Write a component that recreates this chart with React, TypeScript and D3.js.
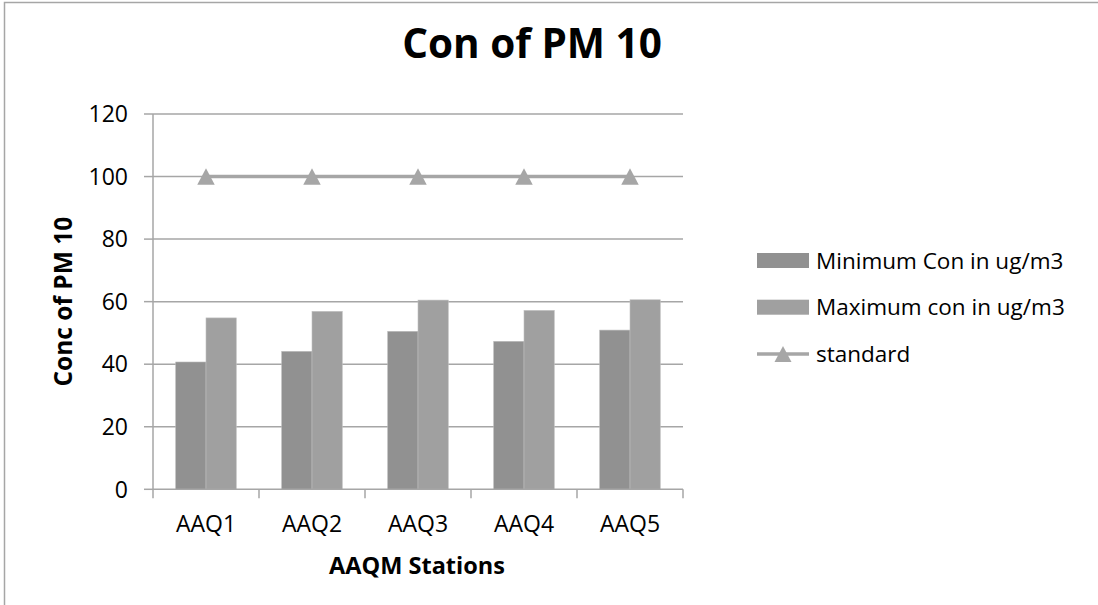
import React from "react";
import * as d3 from "d3";

const categories = ["AAQ1", "AAQ2", "AAQ3", "AAQ4", "AAQ5"];
const minimumCon = [40.7, 44.1, 50.5, 47.3, 50.9];
const maximumCon = [54.8, 56.9, 60.5, 57.2, 60.6];
const standard = [100, 100, 100, 100, 100];
const yTicks = [0, 20, 40, 60, 80, 100, 120];
const seriesNames = ["Minimum Con in ug/m3", "Maximum con in ug/m3", "standard"];

const W = 1098;
const H = 605;
const FONT = "'Open Sans', 'Noto Sans', sans-serif";

export default function App() {
  const left = 153;
  const right = 683;
  const top = 114;
  const bottom = 489.3;

  const x = d3.scaleBand<string>().domain(categories).range([left, right]).padding(0);
  const y = d3.scaleLinear().domain([0, 120]).range([bottom, top]);
  const bw = x.bandwidth();
  const barW = bw / 3.5;
  const off = (bw - 2 * barW) / 2;

  const linePts: [number, number][] = categories.map((c, i) => [x(c)! + bw / 2, y(standard[i])]);
  const line = d3.line()(linePts) || "";

  const tri = (cx: number, cy: number, s: number) =>
    `M${cx},${cy - s * 0.5} L${cx + s * 0.53},${cy + s * 0.5} L${cx - s * 0.53},${cy + s * 0.5} Z`;

  const gridColor = "#a6a6a6";
  const minColor = "#919191";
  const maxColor = "#a0a0a0";
  const stdColor = "#a6a6a6";

  const legX = 757;
  const legRows = [260.5, 307.2, 354];

  return (
    <div style={{ position: "fixed", left: 0, top: 0 }}>
      <svg width={W} height={H} style={{ display: "block", background: "#fff" }}>
        <rect x={4.5} y={2.5} width={1100} height={620} fill="#fff" stroke="#a6a6a6" strokeWidth={1.5} />
        <text x={532} y={58} textAnchor="middle" fontFamily={FONT} fontWeight="bold" fontSize={40.5} fill="#000">
          Con of PM 10
        </text>

        {yTicks.map((t) => (
          <g key={t}>
            {t > 0 && <line x1={left} x2={right} y1={y(t)} y2={y(t)} stroke={gridColor} strokeWidth={1.5} />}
            <line x1={left - 9} x2={left} y1={y(t)} y2={y(t)} stroke={gridColor} strokeWidth={1.5} />
            <text x={128} y={y(t)} dy="0.36em" textAnchor="end" fontFamily={FONT} fontSize={23} fill="#000">
              {t}
            </text>
          </g>
        ))}

        {categories.map((c, i) => (
          <g key={c}>
            <rect x={x(c)! + off} y={y(minimumCon[i])} width={barW} height={bottom - y(minimumCon[i])} fill={minColor} stroke="#b8b8b8" strokeWidth={0.6} />
            <rect x={x(c)! + off + barW} y={y(maximumCon[i])} width={barW} height={bottom - y(maximumCon[i])} fill={maxColor} stroke="#c0c0c0" strokeWidth={0.6} />
          </g>
        ))}

        <line x1={left} x2={left} y1={top} y2={bottom} stroke={gridColor} strokeWidth={1.5} />
        <line x1={left} x2={right} y1={bottom} y2={bottom} stroke={gridColor} strokeWidth={1.5} />
        {[...categories.map((c) => x(c)!), right].map((px, i) => (
          <line key={i} x1={px} x2={px} y1={bottom} y2={bottom + 9} stroke={gridColor} strokeWidth={1.5} />
        ))}

        <path d={line} fill="none" stroke={stdColor} strokeWidth={3.5} />
        {linePts.map(([px, py], i) => (
          <path key={i} d={tri(px, py, 16.5)} fill={stdColor} />
        ))}

        {categories.map((c) => (
          <text key={c} x={x(c)! + bw / 2} y={532} textAnchor="middle" fontFamily={FONT} fontSize={23} fill="#000">
            {c}
          </text>
        ))}

        <text x={417} y={574} textAnchor="middle" fontFamily={FONT} fontWeight="bold" fontSize={23.5} fill="#000">
          AAQM Stations
        </text>
        <text transform={`translate(72,${(top + bottom) / 2}) rotate(-90)`} textAnchor="middle" fontFamily={FONT} fontWeight="bold" fontSize={24.5} fill="#000">
          Conc of PM 10
        </text>

        <rect x={legX} y={legRows[0] - 7.5} width={52} height={15} fill={minColor} />
        <rect x={legX} y={legRows[1] - 7.5} width={52} height={15} fill={maxColor} />
        <line x1={legX} x2={legX + 52} y1={legRows[2]} y2={legRows[2]} stroke={stdColor} strokeWidth={3.5} />
        <path d={tri(legX + 26, legRows[2], 16)} fill={stdColor} />
        {seriesNames.map((n, i) => (
          <text key={n} x={816} y={legRows[i]} dy="0.36em" fontFamily={FONT} fontSize={22.5} fill="#000">
            {n}
          </text>
        ))}
      </svg>
    </div>
  );
}
